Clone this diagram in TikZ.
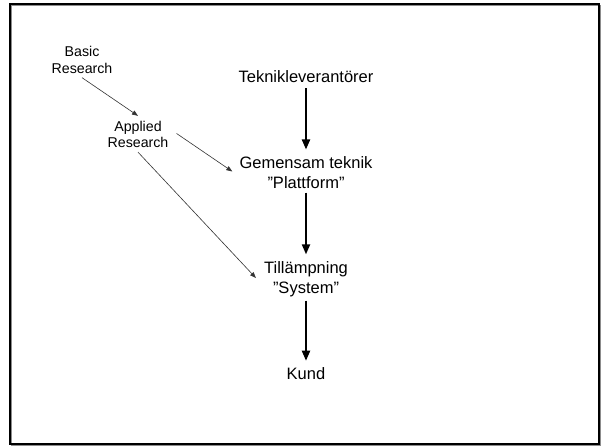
\documentclass[tikz,border=0pt]{standalone}
\usepackage{fontspec}
\setmainfont{Liberation Sans}
\usetikzlibrary{arrows.meta}
\begin{document}
\begin{tikzpicture}[x=1pt,y=-1pt,
  big/.style={font=\fontsize{16.5}{19.5}\selectfont, align=center, inner sep=0pt},
  small/.style={font=\fontsize{14.2}{16.5}\selectfont, align=center, inner sep=0pt},
  thick arrow/.style={line width=2pt, -{Triangle[width=8pt,length=10pt]}},
  thin arrow/.style={line width=0.6pt, draw=black!80, -{Triangle[width=4.5pt,length=6pt]}}]
\useasboundingbox (0,0) rectangle (605,446);
\fill[white] (0,0) rectangle (605,446);
% frame with slight shadow
\draw[line width=1.5pt, black!45] (11.5,5.5) rectangle (599.8,445.3);
\draw[line width=2pt] (10.3,4.3) rectangle (598.5,444.2);

\node[small] (basic) at (82,60) {Basic\\Research};
\node[small] (applied) at (138,134.5) {Applied\\Research};
\node[big] (tek) at (306,77) {Teknikleverantörer};
\node[big] (gem) at (306,172.5) {Gemensam teknik\\”Plattform”};
\node[big] (til) at (306,279) {Tillämpning\\”System”};
\node[big] (kund) at (306,374) {Kund};

\draw[thick arrow] ([yshift=-5pt]tek.south) -- ([yshift=7pt]gem.north);
\draw[thick arrow] ([yshift=-4pt]gem.south) -- ([yshift=7pt]til.north);
\draw[thick arrow] ([yshift=-4pt]til.south) -- ([yshift=7pt]kund.north);

\draw[thin arrow] ([yshift=-4pt]basic.south) -- ([yshift=5pt]applied.north);
\draw[thin arrow] ([xshift=8pt,yshift=1pt]applied.east) -- ([xshift=-7pt,yshift=1pt]gem.west);
\draw[thin arrow] ([yshift=-4pt]applied.south) -- ([xshift=-8pt,yshift=1pt]til.west);
\end{tikzpicture}
\end{document}
